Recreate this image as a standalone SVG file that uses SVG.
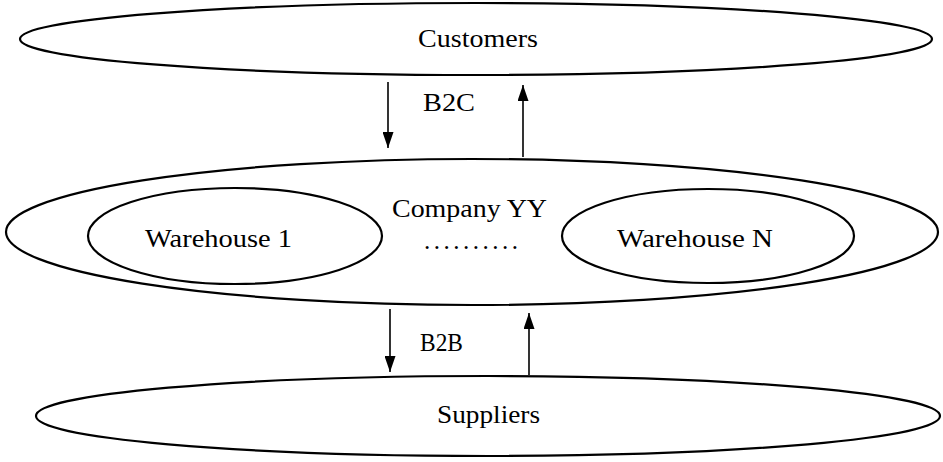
<svg xmlns="http://www.w3.org/2000/svg" width="943" height="462" viewBox="0 0 943 462">
  <style>
    .shape { fill: none; stroke: #000; stroke-width: 2.2; }
    .label { font-family: "Liberation Serif", "DejaVu Serif", serif; font-size: 25px; fill: #000; text-anchor: start; }
    .flow { stroke: #000; stroke-width: 1.6; fill: none; }
  </style>
  <defs>
    <marker id="tip" viewBox="0 0 16 11" refX="16" refY="5.5" markerWidth="16" markerHeight="11" markerUnits="userSpaceOnUse" orient="auto">
      <path d="M0,0 L16,5.5 L0,11 Z" fill="#000"/>
    </marker>
  </defs>

  <rect width="943" height="462" fill="#fff"/>

  <!-- Customers -->
  <g id="customers">
    <ellipse class="shape" cx="476" cy="39" rx="456" ry="36"/>
    <text class="label" x="418" y="47" textLength="120" lengthAdjust="spacingAndGlyphs">Customers</text>
  </g>

  <!-- Company with its warehouses -->
  <g id="company">
    <ellipse class="shape" cx="472" cy="232" rx="466" ry="73"/>
    <text class="label" x="392" y="217" textLength="155" lengthAdjust="spacingAndGlyphs">Company YY</text>
    <text class="label" x="424" y="249" textLength="94" lengthAdjust="spacing">..........</text>
  </g>

  <g id="warehouse1">
    <ellipse class="shape" cx="235" cy="236" rx="147" ry="48"/>
    <text class="label" x="145" y="247" textLength="147" lengthAdjust="spacingAndGlyphs">Warehouse 1</text>
  </g>

  <g id="warehouseN">
    <ellipse class="shape" cx="708" cy="236" rx="146" ry="47"/>
    <text class="label" x="617" y="247" textLength="156" lengthAdjust="spacingAndGlyphs">Warehouse N</text>
  </g>

  <!-- Suppliers -->
  <g id="suppliers">
    <ellipse class="shape" cx="488" cy="416" rx="452" ry="40"/>
    <text class="label" x="437" y="423" textLength="103" lengthAdjust="spacingAndGlyphs">Suppliers</text>
  </g>

  <!-- Connectors -->
  <g id="connectors">
    <line class="flow" x1="388" y1="82" x2="388" y2="148" marker-end="url(#tip)"/>
    <line class="flow" x1="523" y1="157" x2="523" y2="85" marker-end="url(#tip)"/>
    <text class="label" x="423" y="111" textLength="52" lengthAdjust="spacingAndGlyphs">B2C</text>

    <line class="flow" x1="390" y1="309" x2="390" y2="372" marker-end="url(#tip)"/>
    <line class="flow" x1="529" y1="375" x2="529" y2="313" marker-end="url(#tip)"/>
    <text class="label" x="420" y="351" textLength="43" lengthAdjust="spacingAndGlyphs">B2B</text>
  </g>
</svg>
